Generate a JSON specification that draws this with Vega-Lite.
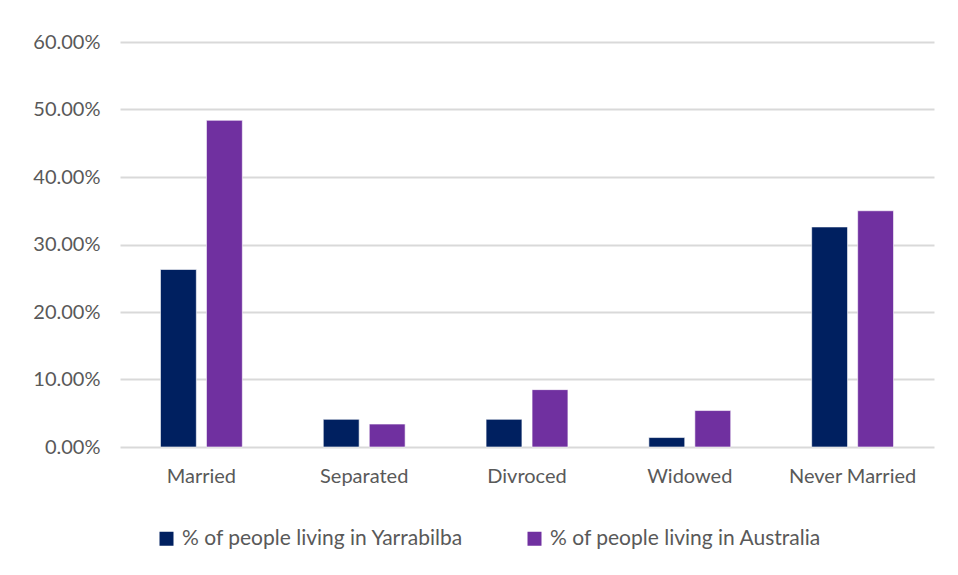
{
  "$schema": "https://vega.github.io/schema/vega-lite/v6.json",
  "width": 814,
  "height": 405,
  "autosize": "none",
  "padding": {"left": 120, "top": 42, "right": 24, "bottom": 128},
  "background": "white",
  "data": {
    "values": [
      {"status": "Married", "series": "% of people living in Yarrabilba", "value": 0.263},
      {"status": "Married", "series": "% of people living in Australia", "value": 0.484},
      {"status": "Separated", "series": "% of people living in Yarrabilba", "value": 0.041},
      {"status": "Separated", "series": "% of people living in Australia", "value": 0.034},
      {"status": "Divroced", "series": "% of people living in Yarrabilba", "value": 0.041},
      {"status": "Divroced", "series": "% of people living in Australia", "value": 0.085},
      {"status": "Widowed", "series": "% of people living in Yarrabilba", "value": 0.014},
      {"status": "Widowed", "series": "% of people living in Australia", "value": 0.054},
      {"status": "Never Married", "series": "% of people living in Yarrabilba", "value": 0.326},
      {"status": "Never Married", "series": "% of people living in Australia", "value": 0.35}
    ]
  },
  "mark": {"type": "bar", "stroke": "white", "strokeWidth": 0.6},
  "encoding": {
    "x": {
      "field": "status", "type": "nominal",
      "sort": ["Married", "Separated", "Divroced", "Widowed", "Never Married"],
      "scale": {"paddingInner": 0, "paddingOuter": 0},
      "axis": {"title": null, "labelAngle": 0, "domain": false, "ticks": false, "labelPadding": 19, "labelFontSize": 20, "labelColor": "#595959", "labelFont": "Lato"}
    },
    "xOffset": {
      "field": "series", "type": "nominal",
      "sort": ["% of people living in Yarrabilba", "% of people living in Australia"],
      "scale": {"paddingInner": 0.22, "paddingOuter": 0.88}
    },
    "y": {
      "field": "value", "type": "quantitative",
      "scale": {"domain": [0, 0.6], "nice": false},
      "axis": {"title": null, "values": [0, 0.1, 0.2, 0.3, 0.4, 0.5, 0.6], "format": ".2%", "domain": false, "ticks": false, "labelPadding": 20, "labelFontSize": 20, "labelColor": "#595959", "labelFont": "Lato", "gridColor": "#d9d9d9", "gridWidth": 2}
    },
    "color": {
      "field": "series", "type": "nominal",
      "scale": {"domain": ["% of people living in Yarrabilba", "% of people living in Australia"], "range": ["#002060", "#7030A0"]},
      "legend": {"title": null, "orient": "none", "direction": "horizontal", "legendX": 36, "legendY": 486, "symbolType": "square", "symbolSize": 196, "symbolStrokeWidth": 0, "labelFontSize": 21, "labelColor": "#595959", "labelFont": "Lato", "labelLimit": 500, "columnPadding": 60, "labelOffset": 5}
    }
  },
  "config": {"view": {"stroke": null}}
}
